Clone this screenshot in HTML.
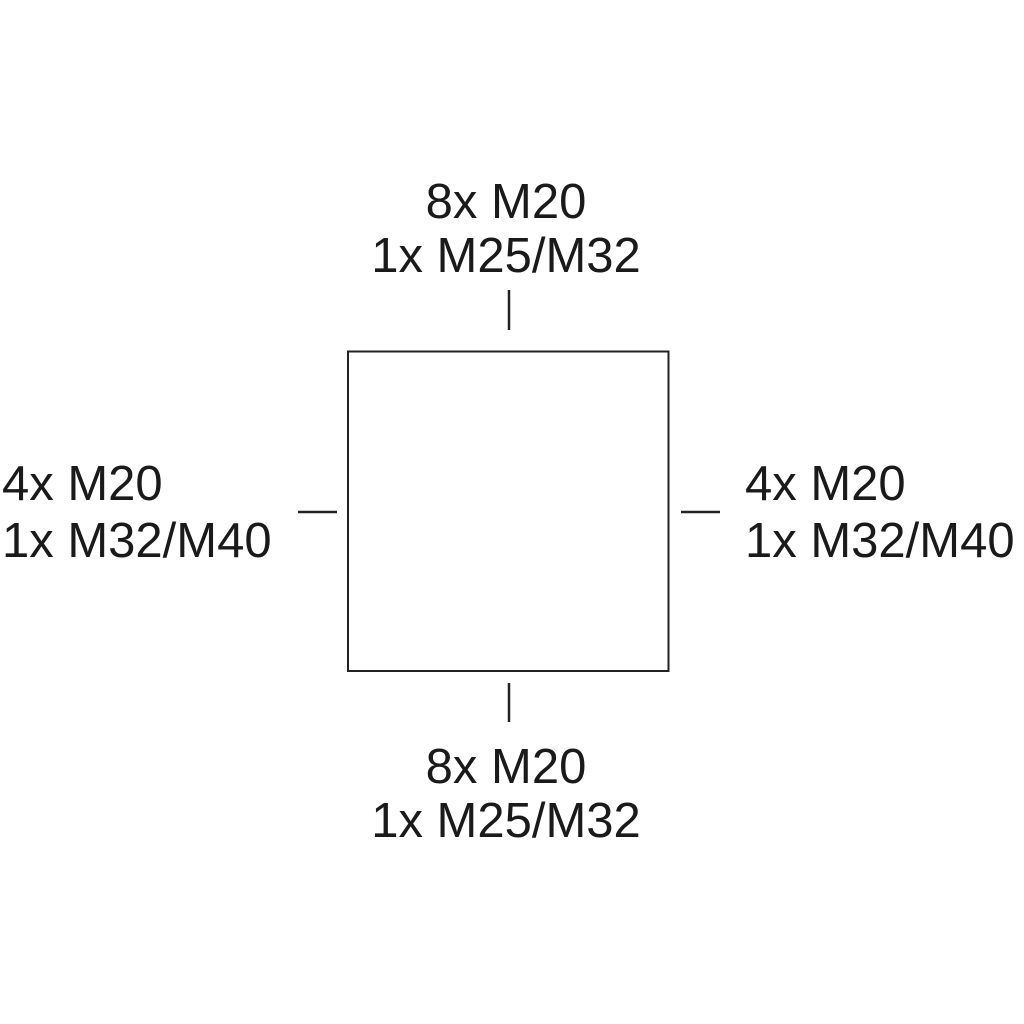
<!DOCTYPE html>
<html><head><meta charset="utf-8"><style>
html,body{margin:0;padding:0;background:#fff;}
svg{display:block;}
text{font-family:"Liberation Sans",sans-serif;font-size:49px;fill:#1a1a1a;}
</style></head><body>
<svg width="1024" height="1024" viewBox="0 0 1024 1024" xmlns="http://www.w3.org/2000/svg">
<rect x="0" y="0" width="1024" height="1024" fill="#fff"/>
<rect x="348" y="351.5" width="320.5" height="319.5" fill="none" stroke="#222" stroke-width="2"/>
<line x1="509" y1="290" x2="509" y2="330" stroke="#222" stroke-width="2.5"/>
<line x1="509" y1="683" x2="509" y2="722" stroke="#222" stroke-width="2.5"/>
<line x1="298" y1="512" x2="337" y2="512" stroke="#222" stroke-width="2.5"/>
<line x1="681" y1="512" x2="720" y2="512" stroke="#222" stroke-width="2.5"/>
<text x="506" y="218" text-anchor="middle">8x M20</text>
<text x="506" y="272" text-anchor="middle">1x M25/M32</text>
<text x="506" y="783" text-anchor="middle">8x M20</text>
<text x="506" y="837" text-anchor="middle">1x M25/M32</text>
<text x="2" y="500">4x M20</text>
<text x="2" y="557">1x M32/M40</text>
<text x="745" y="500">4x M20</text>
<text x="745" y="557">1x M32/M40</text>
</svg>
</body></html>
